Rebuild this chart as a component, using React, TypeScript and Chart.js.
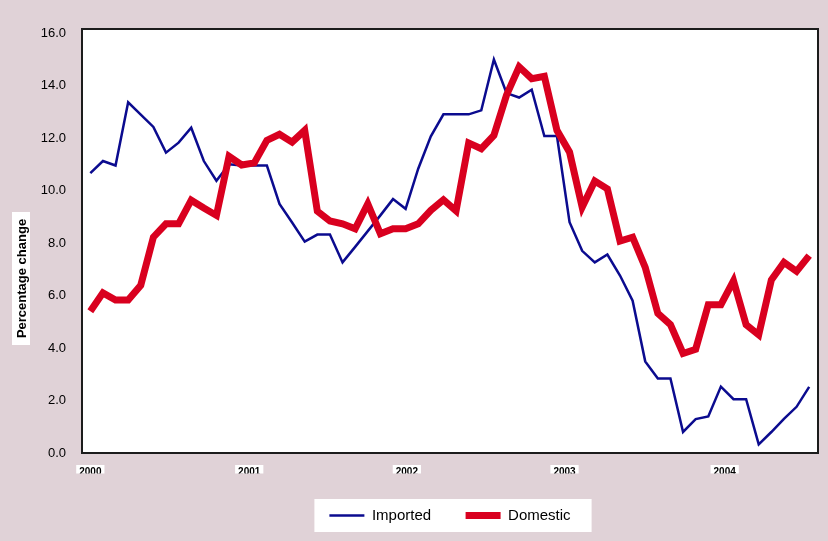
import React, { useEffect, useRef } from 'react';
import { Chart, registerables } from 'chart.js';

Chart.register(...registerables);

const seriesNames = ['Imported', 'Domestic'];

const importedValues = [
  10.66, 11.12, 10.95, 13.36, 12.89, 12.42, 11.44, 11.82, 12.39, 11.12,
  10.37, 11.0, 10.95, 10.95, 10.95, 9.49, 8.78, 8.05, 8.32, 8.32,
  7.26, 7.85, 8.45, 9.05, 9.67, 9.3, 10.83, 12.06, 12.9, 12.9,
  12.9, 13.05, 14.99, 13.71, 13.54, 13.84, 12.07, 12.07, 8.79, 7.7,
  7.26, 7.56, 6.76, 5.8, 3.49, 2.84, 2.84, 0.8, 1.29, 1.39,
  2.53, 2.05, 2.05, 0.33, 0.8, 1.3, 1.76, 2.52,
];

const domesticValues = [
  5.4, 6.1, 5.83, 5.83, 6.39, 8.22, 8.73, 8.73, 9.63, 9.33,
  9.05, 11.3, 10.97, 11.05, 11.91, 12.14, 11.84, 12.29, 9.21, 8.84,
  8.73, 8.54, 9.49, 8.35, 8.54, 8.54, 8.73, 9.24, 9.64, 9.22,
  11.81, 11.59, 12.1, 13.63, 14.71, 14.26, 14.35, 12.29, 11.46, 9.36,
  10.36, 10.06, 8.07, 8.22, 7.07, 5.32, 4.89, 3.79, 3.95, 5.65,
  5.65, 6.56, 4.89, 4.5, 6.59, 7.26, 6.92, 7.52,
];

const xTickPositions = [0, 12.6, 25.1, 37.6, 50.3];
const xTickLabels = ['2000', '2001', '2002', '2003', '2004'];
const yTickValues = [0, 2, 4, 6, 8, 10, 12, 14, 16];
const yAxisTitle = 'Percentage change';

const FONT = "'Liberation Sans', Arial, sans-serif";

const decorPlugin = {
  id: 'decor',
  beforeDraw(chart: any) {
    const { ctx, chartArea: a } = chart;
    ctx.save();
    ctx.fillStyle = '#ffffff';
    ctx.fillRect(a.left, a.top, a.right - a.left, a.bottom - a.top);
    const hb = chart.legend && chart.legend.legendHitBoxes;
    if (hb && hb.length) {
      const first = hb[0];
      const last = hb[hb.length - 1];
      const cy = first.top + first.height / 2;
      const l = first.left - 15;
      const r = last.left + last.width + 21;
      ctx.fillRect(l, cy - 16.5, r - l, 33);
    }
    ctx.restore();
  },
  afterDatasetsDraw(chart: any) {
    const { ctx, chartArea: a } = chart;
    ctx.save();
    ctx.strokeStyle = '#1c1c1c';
    ctx.lineWidth = 2;
    ctx.strokeRect(a.left, a.top, a.right - a.left, a.bottom - a.top);
    ctx.restore();
  },
  afterDraw(chart: any) {
    const { ctx, chartArea: a } = chart;
    const cx = a.left - 61;
    const cy = a.bottom - 174.5;
    ctx.save();
    ctx.fillStyle = '#ffffff';
    ctx.fillRect(cx - 9, cy - 66.5, 18, 133);
    ctx.translate(cx, cy);
    ctx.rotate(-Math.PI / 2);
    ctx.fillStyle = '#000000';
    ctx.font = `bold 13px ${FONT}`;
    ctx.textAlign = 'center';
    ctx.textBaseline = 'middle';
    ctx.fillText(yAxisTitle, 0, 1);
    ctx.restore();
  },
};

export default function App() {
  const canvasRef = useRef<HTMLCanvasElement | null>(null);

  useEffect(() => {
    if (!canvasRef.current) return;
    Chart.defaults.font.family = FONT;
    const chart = new Chart(canvasRef.current, {
      type: 'line',
      data: {
        datasets: [
          {
            label: seriesNames[0],
            data: importedValues.map((v, i) => ({ x: i, y: v })),
            borderColor: '#0b0b8f',
            backgroundColor: '#0b0b8f',
            borderWidth: 2.5,
            pointRadius: 0,
            tension: 0,
            order: 1,
          },
          {
            label: seriesNames[1],
            data: domesticValues.map((v, i) => ({ x: i, y: v })),
            borderColor: '#d9001f',
            backgroundColor: '#d9001f',
            borderWidth: 7,
            pointRadius: 0,
            tension: 0,
            order: 0,
          },
        ],
      },
      options: {
        animation: false,
        responsive: false,
        devicePixelRatio: 1,
        layout: { padding: { top: 29, right: 10, left: 0, bottom: 8 } },
        plugins: {
          tooltip: { enabled: false },
          legend: {
            position: 'bottom',
            fullSize: false,
            maxHeight: 67.5,
            labels: {
              usePointStyle: true,
              pointStyle: 'line',
              pointStyleWidth: 35,
              padding: 34.5,
              color: '#000000',
              font: { size: 15, family: FONT },
              sort: (a: any, b: any) => a.datasetIndex - b.datasetIndex,
            },
          },
        },
        scales: {
          x: {
            type: 'linear',
            min: -0.66,
            max: 57.7,
            grid: { display: false, drawTicks: false },
            border: { display: false },
            afterBuildTicks: (scale: any) => {
              scale.ticks = xTickPositions.map((v) => ({ value: v }));
            },
            afterFit: (scale: any) => {
              scale.height = 20.5;
            },
            ticks: {
              autoSkip: false,
              maxRotation: 0,
              padding: 13,
              color: '#000000',
              font: { size: 10, weight: 'bold', family: FONT },
              showLabelBackdrop: true,
              backdropColor: '#ffffff',
              backdropPadding: { x: 3, y: 1 },
              callback: (_v: any, i: number) => xTickLabels[i],
            },
          },
          y: {
            type: 'linear',
            min: 0,
            max: 16.15,
            grid: { display: false, drawTicks: false },
            border: { display: false },
            afterBuildTicks: (scale: any) => {
              scale.ticks = yTickValues.map((v) => ({ value: v }));
            },
            afterFit: (scale: any) => {
              scale.width = 82;
            },
            ticks: {
              padding: 16,
              color: '#000000',
              font: { size: 13, family: FONT },
              callback: (v: any) => Number(v).toFixed(1),
            },
          },
        },
      },
      plugins: [decorPlugin],
    } as any);
    return () => chart.destroy();
  }, []);

  return (
    <div
      style={{
        position: 'absolute',
        left: 0,
        top: 0,
        width: 828,
        height: 541,
        background: '#e0d2d7',
      }}
    >
      <canvas ref={canvasRef} width={828} height={541} style={{ display: 'block' }} />
    </div>
  );
}
